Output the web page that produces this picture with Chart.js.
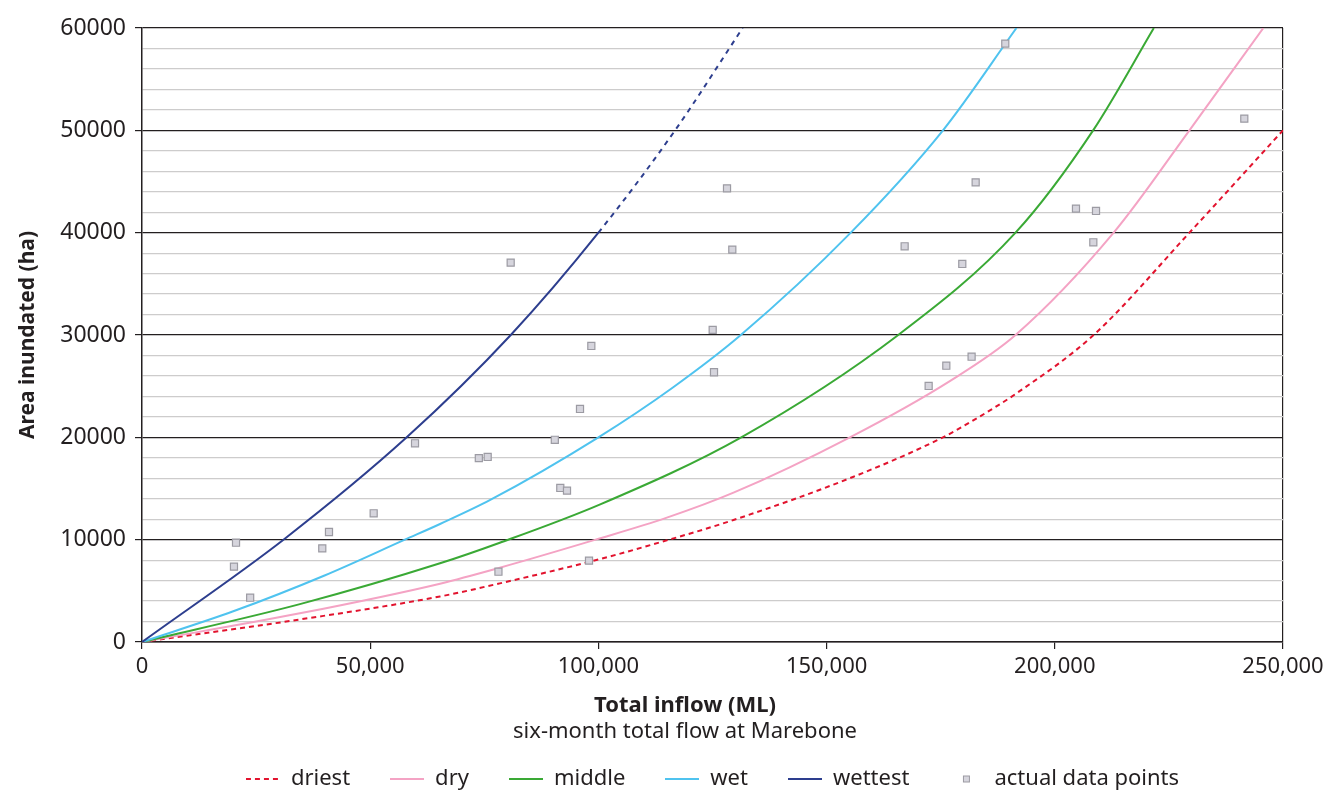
<!DOCTYPE html>
<html>
<head>
<meta charset="utf-8">
<script src="https://cdn.jsdelivr.net/npm/chart.js@4.4.1/dist/chart.umd.min.js"></script>
<style>
  html, body { margin: 0; padding: 0; background: #fff; }
  #wrap { width: 1325px; height: 795px; position: relative; }
</style>
</head>
<body>
<div id="wrap"><canvas id="inundationChart"></canvas></div>
<script>
// six-month total flow at Marebone (ML) against area inundated (ha)
const driestFlow = [0, 34600, 65300, 78400, 100400, 115500, 129600, 155900, 175500, 182900, 191600, 208500, 229500, 250000]
const driestArea = [0, 2200, 4450, 5730, 8110, 10000, 11920, 16150, 20000, 21860, 24300, 30000, 40000, 50000]

const dryFlow = [0, 34600, 65300, 78400, 99400, 115000, 129600, 155100, 177000, 191400, 212900, 229500, 245700]
const dryArea = [0, 2800, 5700, 7260, 10000, 12150, 14590, 20000, 25500, 30000, 40000, 50000, 60000]

const middleFlow = [0, 34600, 65300, 78400, 100400, 131300, 165700, 191400, 208400, 221700]
const middleArea = [0, 3700, 7690, 9700, 13450, 20000, 30000, 40000, 50000, 60000]

const wetFlow = [0, 20000, 40000, 57600, 65300, 76300, 100000, 116400, 131200, 155300, 175500, 191600]
const wetArea = [0, 3000, 6500, 10000, 11530, 13880, 20000, 24900, 30000, 40000, 50000, 60000]

// solid up to 100,000 ML, dashed beyond
const wettestFlow = [0, 31000, 58000, 80800, 100000, 116800, 131600]
const wettestArea = [0, 10000, 20000, 30000, 40000, 50000, 60000]
const wettestDashFrom = 100000

const actualFlow = [20600, 20150, 23700, 39500, 40970, 50760, 59820, 73800, 75740, 78100, 80780,
  90450, 91650, 93120, 95970, 98450, 97940, 125040, 125330, 128180, 129340, 167100,
  172360, 176230, 179730, 181770, 182660, 189150, 204640, 209030, 208440, 241520]
const actualArea = [9700, 7360, 4330, 9150, 10750, 12580, 19420, 17970, 18080, 6870, 37070,
  19760, 15050, 14790, 22770, 28930, 7950, 30500, 26360, 44330, 38340, 38670,
  25020, 27000, 36940, 27880, 44920, 58470, 42350, 42120, 39060, 51140]

const xTicks = [0, 50000, 100000, 150000, 200000, 250000]
const yMajorStep = 10000
const yMinorStep = 2000

const xTitle = "Total inflow (ML)"
const xSubtitle = "six-month total flow at Marebone"
const yTitle = "Area inundated (ha)"

const ink = "#231f20"
const minorGrid = "#cdcccc"
const fontFamily = '"Noto Sans", "Open Sans", sans-serif'

const toPoints = (xs, ys) => xs.map((x, i) => ({ x: x, y: ys[i] }))

// small pictures used as legend keys
function lineKey(color, dash) {
  const c = document.createElement("canvas")
  c.width = 34
  c.height = 6
  const g = c.getContext("2d")
  g.strokeStyle = color
  g.lineWidth = 2
  g.setLineDash(dash)
  g.beginPath()
  g.moveTo(0, 3)
  g.lineTo(34, 3)
  g.stroke()
  return c
}
function squareKey(fill, border) {
  const c = document.createElement("canvas")
  c.width = 9
  c.height = 9
  const g = c.getContext("2d")
  g.fillStyle = fill
  g.fillRect(1, 1, 7, 7)
  g.strokeStyle = border
  g.lineWidth = 1
  g.strokeRect(1.5, 1.5, 6, 6)
  return c
}

const pointFill = "#d6d5dd"
const pointBorder = "#9c9ba3"

const legendKeys = [
  lineKey("#e2132e", [5, 4]),
  lineKey("#f4a3c4", []),
  lineKey("#3aa935", []),
  lineKey("#4fc3ef", []),
  lineKey("#2d3e8e", []),
  squareKey(pointFill, pointBorder),
]

// x title and subtitle under the axis
const axisCaption = {
  id: "axisCaption",
  afterDraw(chart) {
    const { ctx, chartArea } = chart
    const cx = chartArea.left + 543
    ctx.save()
    ctx.fillStyle = ink
    ctx.textAlign = "center"
    ctx.textBaseline = "middle"
    ctx.font = "bold 22px " + fontFamily
    ctx.fillText(xTitle, cx, chartArea.bottom + 64)
    ctx.font = "22px " + fontFamily
    ctx.fillText(xSubtitle, cx, chartArea.bottom + 90)
    ctx.restore()
  },
}

const ctx = document.getElementById("inundationChart").getContext("2d")

new Chart(ctx, {
  type: "line",
  data: {
    datasets: [
      {
        label: "driest",
        data: toPoints(driestFlow, driestArea),
        borderColor: "#e2132e",
        borderWidth: 2,
        borderDash: [5, 4],
        pointRadius: 0,
        cubicInterpolationMode: "monotone",
        order: 5,
      },
      {
        label: "dry",
        data: toPoints(dryFlow, dryArea),
        borderColor: "#f4a3c4",
        borderWidth: 2,
        pointRadius: 0,
        cubicInterpolationMode: "monotone",
        order: 4,
      },
      {
        label: "middle",
        data: toPoints(middleFlow, middleArea),
        borderColor: "#3aa935",
        borderWidth: 2,
        pointRadius: 0,
        cubicInterpolationMode: "monotone",
        order: 3,
      },
      {
        label: "wet",
        data: toPoints(wetFlow, wetArea),
        borderColor: "#4fc3ef",
        borderWidth: 2,
        pointRadius: 0,
        cubicInterpolationMode: "monotone",
        order: 2,
      },
      {
        label: "wettest",
        data: toPoints(wettestFlow, wettestArea),
        borderColor: "#2d3e8e",
        borderWidth: 2,
        pointRadius: 0,
        cubicInterpolationMode: "monotone",
        segment: {
          borderDash: (s) => (s.p0.parsed.x >= wettestDashFrom ? [5, 5] : undefined),
        },
        order: 1,
      },
      {
        type: "scatter",
        label: "actual data points",
        data: toPoints(actualFlow, actualArea),
        showLine: false,
        pointStyle: "rect",
        pointRadius: 5,
        pointBackgroundColor: pointFill,
        pointBorderColor: pointBorder,
        pointBorderWidth: 1.2,
        order: 0,
      },
    ],
  },
  options: {
    responsive: true,
    maintainAspectRatio: false,
    animation: false,
    events: [],
    layout: { padding: { top: 28, right: 42, left: 0, bottom: -5 } },
    font: { family: fontFamily },
    scales: {
      x: {
        type: "linear",
        min: 0,
        max: 250000,
        afterBuildTicks: (scale) => {
          scale.ticks = xTicks.map((v) => ({ value: v }))
        },
        afterFit: (scale) => {
          scale.height = 86
          // let the last tick label run into the right margin
          scale.paddingRight = 0
        },
        ticks: {
          color: ink,
          font: { family: fontFamily, size: 22 },
          padding: 5,
          maxRotation: 0,
          callback: (value) => value.toLocaleString("en-US"),
        },
        grid: {
          color: (c) => (c.tick && c.tick.value === 250000 ? ink : "transparent"),
          tickColor: ink,
          tickLength: 7,
          lineWidth: 1.2,
        },
        border: { color: ink, width: 1.5 },
      },
      y: {
        min: 0,
        max: 60000,
        afterFit: (scale) => {
          scale.width = 142
        },
        ticks: {
          stepSize: yMinorStep,
          autoSkip: false,
          color: ink,
          font: { family: fontFamily, size: 23 },
          padding: 9,
          callback: (value) => (value % yMajorStep === 0 ? value : ""),
        },
        grid: {
          color: (c) => (c.tick.value % yMajorStep === 0 ? ink : minorGrid),
          tickColor: (c) => (c.tick.value % yMajorStep === 0 ? ink : "transparent"),
          tickLength: 7,
          lineWidth: 1.2,
        },
        border: { color: ink, width: 1.5 },
        title: {
          display: true,
          text: yTitle,
          color: ink,
          font: { family: fontFamily, size: 21, weight: "bold" },
          padding: { top: 15, bottom: 0 },
        },
      },
    },
    plugins: {
      tooltip: { enabled: false },
      legend: {
        position: "bottom",
        fullSize: false,
        labels: {
          usePointStyle: true,
          pointStyleWidth: 34,
          padding: 40,
          color: ink,
          font: { family: fontFamily, size: 22 },
          sort: (a, b) => a.datasetIndex - b.datasetIndex,
          generateLabels: (chart) =>
            Chart.defaults.plugins.legend.labels.generateLabels(chart).map((item) => {
              item.pointStyle = legendKeys[item.datasetIndex]
              return item
            }),
        },
      },
    },
  },
  plugins: [axisCaption],
})
</script>
</body>
</html>
